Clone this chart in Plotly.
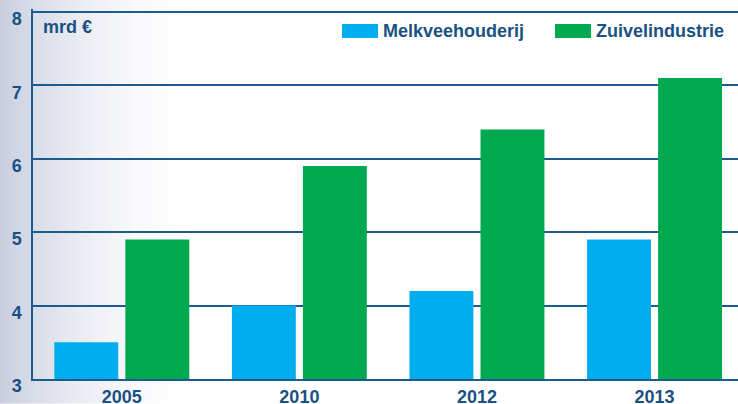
import plotly.graph_objects as go

years = ["2005", "2010", "2012", "2013"]
melkveehouderij = [3.5, 4.0, 4.2, 4.9]
zuivelindustrie = [4.9, 5.9, 6.4, 7.1]
y_ticks = [3, 4, 5, 6, 7, 8]
series_names = ["Melkveehouderij", "Zuivelindustrie"]
unit_label = "mrd €"

W, H = 738, 404
Y_MIN, Y_MAX = 3, 8.04
PX_PER_UNIT = 73.5
BASE_Y = 379.5
ML, MR = 33, 0
MB = H - BASE_Y
PH = (Y_MAX - Y_MIN) * PX_PER_UNIT
MT = H - MB - PH
PW = W - ML - MR

BLUE = "#00aeef"
GREEN = "#00a94f"
TXT = "#1a5183"
GRID = "#1d5a8d"
FONT = "Liberation Sans, Arial, sans-serif"


def px_x(X):
    return (X - ML) / PW


def px_y(Y):
    return (H - MB - Y) / PH


fig = go.Figure()
fig.add_trace(go.Bar(x=years, y=melkveehouderij, name=series_names[0],
                     marker=dict(color=BLUE, line=dict(width=0))))
fig.add_trace(go.Bar(x=years, y=zuivelindustrie, name=series_names[1],
                     marker=dict(color=GREEN, line=dict(width=0))))

# background gradient on the left (style only)
shapes = []
left = (0xc8, 0xce, 0xdf)
n = 60
grad_w = 210
for i in range(n):
    x0 = i * grad_w / n
    x1 = (i + 1) * grad_w / n + 0.6
    t = (i + 0.5) / n
    f = (1 - t) ** 2.0
    c = tuple(round(255 - (255 - v) * f) for v in left)
    shapes.append(dict(type="rect", xref="paper", yref="paper",
                       x0=px_x(x0), x1=px_x(x1), y0=px_y(H), y1=px_y(0),
                       fillcolor="rgb(%d,%d,%d)" % c, line=dict(width=0),
                       layer="below"))

# legend swatches
shapes.append(dict(type="rect", xref="paper", yref="paper",
                   x0=px_x(342), x1=px_x(378), y0=px_y(38), y1=px_y(24),
                   fillcolor=BLUE, line=dict(width=0)))
shapes.append(dict(type="rect", xref="paper", yref="paper",
                   x0=px_x(555), x1=px_x(591), y0=px_y(38), y1=px_y(24),
                   fillcolor=GREEN, line=dict(width=0)))

annotations = [
    dict(text=unit_label, xref="paper", yref="paper", x=px_x(41), y=px_y(27.5),
         xanchor="left", yanchor="middle", showarrow=False,
         font=dict(family=FONT, size=18, color=TXT, weight="bold")),
    dict(text=series_names[0], xref="paper", yref="paper", x=px_x(381), y=px_y(31),
         xanchor="left", yanchor="middle", showarrow=False,
         font=dict(family=FONT, size=18, color=TXT, weight="bold")),
    dict(text=series_names[1], xref="paper", yref="paper", x=px_x(594), y=px_y(31),
         xanchor="left", yanchor="middle", showarrow=False,
         font=dict(family=FONT, size=18, color=TXT, weight="bold")),
]

fig.update_layout(
    width=W, height=H,
    margin=dict(l=ML, r=MR, t=MT, b=MB, pad=0, autoexpand=False),
    paper_bgcolor="white", plot_bgcolor="white",
    barmode="group", bargap=0.2, bargroupgap=0.1,
    showlegend=False,
    shapes=shapes, annotations=annotations,
    font=dict(family=FONT, size=18, color=TXT),
)
fig.update_xaxes(
    type="category", range=[-0.5, 3.47], showgrid=False, zeroline=False,
    showline=True, linecolor=GRID, linewidth=2, ticks="", automargin=False,
    tickfont=dict(family=FONT, size=18, color=TXT, weight="bold"),
    ticklabelstandoff=0,
)
fig.update_yaxes(
    range=[Y_MIN, Y_MAX], tickvals=y_ticks, showgrid=True, gridcolor=GRID,
    gridwidth=1.5, zeroline=False, showline=True, linecolor=GRID, linewidth=1.5,
    ticks="", automargin=False,
    tickfont=dict(family=FONT, size=18, color=TXT, weight="bold"),
    ticklabelshift=7, ticklabelstandoff=6,
)

fig.write_html(
    "out.html",
    config={"displayModeBar": False},
    post_script="document.body.style.margin='0';document.body.style.overflow='hidden';",
)
